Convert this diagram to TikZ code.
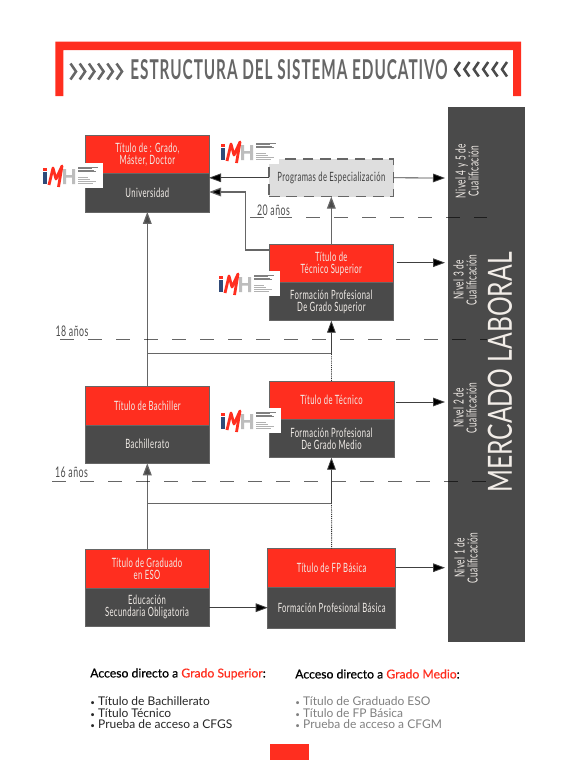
\documentclass[tikz,border=0pt]{standalone}
\usepackage{fontspec}
\setmainfont{Lato}
\newfontfamily\cond[FakeStretch=0.6,LetterSpace=3]{Lato}
\newfontfamily\condt[FakeStretch=0.56,LetterSpace=3.5]{Lato}
\newfontfamily\condm[FakeStretch=0.74]{Lato}
\newfontfamily\accf[FakeBold=0.6]{Lato}
\usetikzlibrary{arrows.meta,calc}
\definecolor{cred}{HTML}{FF2E1F}
\definecolor{cdark}{HTML}{4A4A4A}
\definecolor{cgrey}{HTML}{666666}
\definecolor{ctxt}{HTML}{F2EDE8}
\definecolor{cnavy}{HTML}{2F4A78}
\definecolor{clg}{HTML}{BDBDBD}
\newcommand{\bul}{{\fontsize{6}{6}\selectfont •}\hspace{2.5pt}}
\tikzset{
  x=0.75pt,y=-0.75pt,
  boxbase/.style={anchor=north west,inner sep=0pt,outer sep=0pt,align=center,draw=black!60,line width=0.4pt,text=ctxt,font=\cond\fontsize{9.6}{8.9}\selectfont},
  redbox/.style={boxbase,fill=cred},
  darkbox/.style={boxbase,fill=cdark},
  conn/.style={draw=black!75,line width=0.6pt,-{Triangle[length=9pt,width=6.5pt,fill=black]}},
  connb/.style={draw=black!60,line width=0.9pt},
  dotc/.style={draw=black!80,line width=0.7pt,dash pattern=on 0.7pt off 0.7pt},
  age/.style={inner sep=0pt,text=black!70,font=\cond\fontsize{11}{12}\selectfont},
  agel/.style={draw=black,draw opacity=0.6,line width=0.6pt,dash pattern=on 10.5pt off 10.5pt},
  nivel/.style={rotate=90,inner sep=0pt,align=center,text=ctxt,font=\cond\fontsize{10.4}{9.8}\selectfont},
  acc/.style={anchor=west,inner sep=0pt,text=black,font=\accf\fontsize{9.15}{10}\selectfont},
  pics/imh/.style={code={
    \fill[white] (0,-2) rectangle (#1,23);
    \fill[cnavy] (0,7) rectangle (4,19);
    \fill[cred] (0.4,2.5) rectangle (3.6,5.5);
    \draw[cred,line width=2.1pt,line join=round] (6,20) -- (10,3) -- (13,14) -- (19,1) -- (15.5,22);
    \fill[clg] (20,4) rectangle (23,19) (29,4) rectangle (32,19) (23,10) rectangle (29,12.5);
    \foreach \yy/\ww in {2/20,3.5/14,5/16,6.5/18}{\draw[black!50,line width=0.25pt] (35,\yy) -- ++(\ww,0);}
    \foreach \yy/\ww in {12/10,14/12,16/18,18/15}{\draw[black!30,line width=0.25pt] (35,\yy) -- ++(\ww,0);}
  }}
}
\begin{document}
\begin{tikzpicture}
\useasboundingbox (0,0) rectangle (576,768);
% header
\fill[cred] (55.3,96) -- (55.3,41.7) -- (521,41.7) -- (521,96) -- (513,96) -- (513,50) -- (63.3,50) -- (63.3,96) -- cycle;
\foreach \i in {0,...,5}{\draw[cgrey,line width=1.9pt] ({70.5+\i*9.2},63.5) -- ({76+\i*9.2},71.5) -- ({70.5+\i*9.2},79.5);}
\foreach \i in {0,...,5}{\draw[cdark,line width=1.9pt] ({460+\i*9.4},62) -- ({455+\i*9.4},69.3) -- ({460+\i*9.4},76.5);}
\node[inner sep=0pt,text=cgrey] (title) at (289,70) {\condt\bfseries\fontsize{20.5}{21}\selectfont ESTRUCTURA DEL SISTEMA EDUCATIVO};
% mercado
\node[anchor=north west,inner sep=0pt,outer sep=0pt,fill=cdark,minimum width=57.75pt,minimum height=401.25pt] (merc) at (448,107) {};
\node[rotate=90,inner sep=0pt,text=ctxt] (merctxt) at (500,372.5) {\condm\fontsize{25}{26}\selectfont MERCADO LABORAL};
\node[nivel] (n45) at (467,171) {Nivel 4 y 5 de\\Cualificación};
\node[nivel] (n3) at (465,280) {Nivel 3 de\\Cualificación};
\node[nivel] (n2) at (465,408) {Nivel 2 de\\Cualificación};
\node[nivel] (n1) at (466,558) {Nivel 1 de\\Cualificación};
% boxes
\node[redbox,minimum width=92.5pt,minimum height=28.7pt] (unia) at (85.7,135.3) {Título de : Grado,\\Máster, Doctor};
\node[darkbox,minimum width=92.5pt,minimum height=28.8pt] (unib) at (85.7,173.5) {Universidad};
\node[anchor=north west,inner sep=0pt,outer sep=0pt,draw=black!60,line width=0.9pt,dash pattern=on 8pt off 5pt,fill=black!13,minimum width=93.5pt,minimum height=28.2pt,align=center,text=black!75,font=\cond\fontsize{9.6}{9}\selectfont] (prog) at (269,159) {Programas de Especialización};
\node[redbox,minimum width=93.5pt,minimum height=28.8pt] (tsa) at (269,244.3) {Título de\\Técnico Superior};
\node[darkbox,minimum width=93.5pt,minimum height=28.5pt] (tsb) at (269,282.7) {Formación Profesional\\De Grado Superior};
\node[redbox,minimum width=92.5pt,minimum height=28.7pt] (baca) at (85.7,386.7) {Título de Bachiller};
\node[darkbox,minimum width=92.5pt,minimum height=28.7pt] (bacb) at (85.7,425) {Bachillerato};
\node[redbox,minimum width=93.7pt,minimum height=28.7pt] (tma) at (269,381) {Título de Técnico};
\node[darkbox,minimum width=93.7pt,minimum height=28.8pt] (tmb) at (269,419.3) {Formación Profesional\\De Grado Medio};
\node[redbox,minimum width=93pt,minimum height=28.7pt] (esoa) at (85,549.7) {Título de Graduado\\en ESO};
\node[darkbox,minimum width=93pt,minimum height=28.7pt] (esob) at (85,588) {Educación\\Secundaria Obligatoria};
\node[redbox,minimum width=96pt,minimum height=28.8pt] (fpa) at (267.7,548.7) {Título de FP Básica};
\node[darkbox,minimum width=96pt,minimum height=31.2pt] (fpb) at (267.7,587) {Formación Profesional Básica};
% connector way-points
\coordinate (m45) at (445,178);
\coordinate (m3) at (445,262.7);
\coordinate (m2) at (445,402);
\coordinate (m1) at (445,567.7);
\coordinate (ts1) at (245.7,250);
\coordinate (ts2) at (245.7,192);
\coordinate (bj1) at (147.3,353.7);
\coordinate (bj2) at (331.5,353.7);
\coordinate (ej1) at (147.3,503.7);
\coordinate (ej2) at (331.5,503.7);
\coordinate (ef) at (267.7,607.7);
% connectors
\draw[conn] (prog.west) -- (unib.east |- prog.west);
\draw[conn] (prog.east) -- (m45);
\draw[connb,-{Triangle[length=9pt,width=6.5pt,fill=black]}] (tsa.west |- ts1) -- (ts1) -- (ts2) -- (unib.east |- ts2);
\draw[connb,-{Triangle[length=9pt,width=6.5pt,fill=cdark]}] (tsa.north) -- (prog.south);
\draw[conn] ($(tsa.east |- m3)+(3,0)$) -- (m3);
\draw[connb,-{Triangle[length=9pt,width=6.5pt,fill=cdark]}] (baca.north -| bj1) -- (unib.south -| bj1);
\draw[connb] (bj1) -- (bj2);
\draw[conn] (bj2) -- (tsb.south);
\draw[dotc] (tma.north) -- (bj2);
\draw[conn] ($(tma.east |- m2)+(2,0)$) -- (m2);
\draw[connb,-{Triangle[length=9pt,width=6.5pt,fill=cdark]}] (esoa.north -| ej1) -- (bacb.south -| ej1);
\draw[connb] (ej1) -- (ej2);
\draw[conn] (ej2) -- (tmb.south);
\draw[dotc] (fpa.north) -- (ej2);
\draw[conn] (esob.east |- ef) -- (ef);
\draw[conn] (fpa.east |- m1) -- (m1);
% age lines
\coordinate (l20a) at (250,217.3); \coordinate (l20b) at (487,217.3);
\coordinate (l18a) at (60,339); \coordinate (l18b) at (487,339);
\coordinate (l16a) at (52,481); \coordinate (l16b) at (487,481);
\draw[agel] (l20a) -- (l20b);
\draw[agel] (l18a) -- (l18b);
\draw[agel] (l16a) -- (l16b);
\node[age] (a20) at (273.5,210) {20 años};
\node[age] (a18) at (72,331) {18 años};
\node[age] (a16) at (71.5,472) {16 años};
% logos
\pic at (43,165) {imh=60};
\pic at (221,141) {imh=58};
\pic at (219,273) {imh=61};
\pic at (221,410) {imh=60};
% footer
\node[acc] (ga) at (90,674) {Acceso directo a \textcolor{cred}{Grado Superior}:};
\node[acc,text=black!85,font=\fontsize{9}{8.6}\selectfont,align=left,anchor=north west] (gb) at (90,696.5) {\bul Título de Bachillerato\\\bul Título Técnico\\\bul Prueba de acceso a CFGS};
\node[acc] (ma) at (295,674) {Acceso directo a \textcolor{cred}{Grado Medio}:};
\node[acc,text=black!50,font=\fontsize{9}{8.6}\selectfont,align=left,anchor=north west] (mb) at (295,696.5) {\bul Título de Graduado ESO\\\bul Título de FP Básica\\\bul Prueba de acceso a CFGM};
\fill[cred] (270,743.7) rectangle (309,760);
\end{tikzpicture}
\end{document}
